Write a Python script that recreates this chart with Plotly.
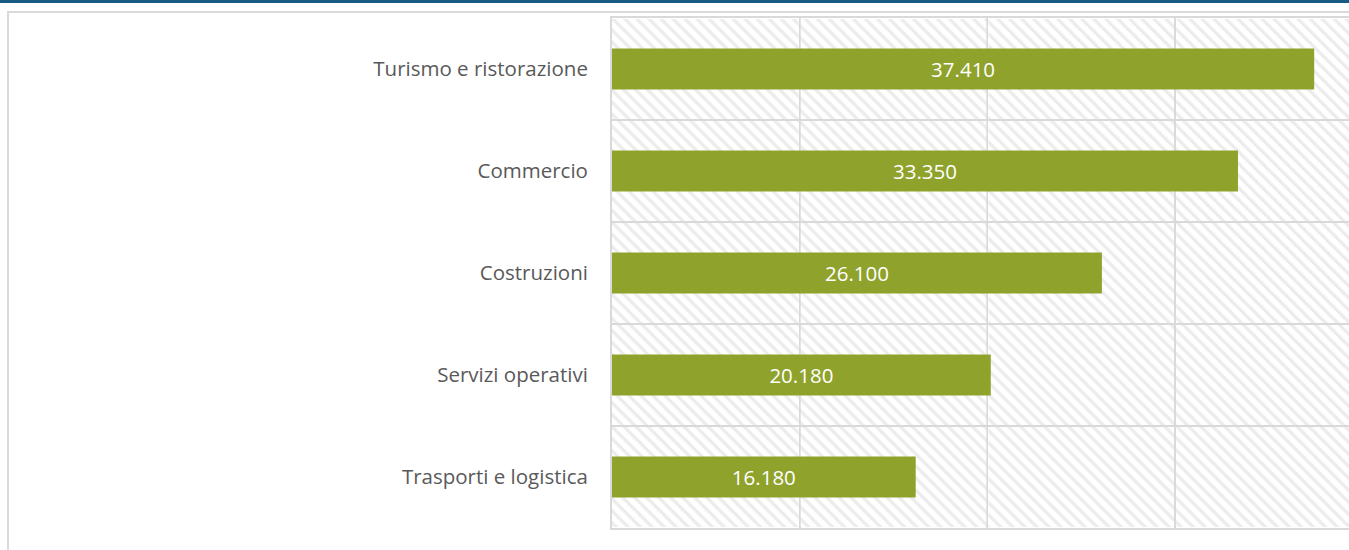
import plotly.graph_objects as go

categories = ["Turismo e ristorazione", "Commercio", "Costruzioni", "Servizi operativi", "Trasporti e logistica"]
values = [37410, 33350, 26100, 20180, 16180]
value_labels = ["37.410", "33.350", "26.100", "20.180", "16.180"]
grid_step = 10000

W, H = 1349, 550
L, R, T, B = 612, 0, 18, 22
x_max = 39265
pw = W - L - R
ph = H - T - B
px_unit = x_max / pw  # data units per pixel

fig = go.Figure()
# hatched background, split into cells so the grid shows between them
edges = list(range(0, x_max, grid_step)) + [x_max]
for a, b in zip(edges[:-1], edges[1:]):
    lo = a + (px_unit if a > 0 else 0)
    hi = b - (px_unit if b < x_max else 0)
    fig.add_trace(go.Bar(
        y=categories, x=[hi - lo] * len(categories), base=[lo] * len(categories),
        orientation="h", width=1 - 2 / (ph / len(categories)),
        marker=dict(color="white", line=dict(width=0),
                    pattern=dict(shape="\\", fgcolor="#d9d9d9", bgcolor="white", size=8.5, solidity=0.4)),
        hoverinfo="skip", showlegend=False,
    ))
fig.add_trace(go.Bar(
    y=categories, x=values, orientation="h", width=0.4,
    marker=dict(color="#8fa22c", line=dict(width=0)),
    text=value_labels, textposition="inside", insidetextanchor="middle",
    textfont=dict(color="white", size=20.5, family="Open Sans"),
    showlegend=False,
))

fig.update_layout(
    width=W, height=H, margin=dict(l=L, r=R, t=T, b=B),
    barmode="overlay", paper_bgcolor="white", plot_bgcolor="white",
    font=dict(family="Open Sans", color="#595959"),
    xaxis=dict(range=[0, x_max], showticklabels=False, dtick=grid_step, tick0=0,
               showgrid=True, gridcolor="#d9d9d9", gridwidth=2, zeroline=False,
               showline=True, mirror=True, linecolor="#d9d9d9", linewidth=2),
    yaxis=dict(categoryorder="array", categoryarray=categories, autorange="reversed",
               tickson="boundaries", showgrid=True, gridcolor="#d9d9d9", gridwidth=2,
               showline=True, linecolor="#d9d9d9", linewidth=2, ticks="",
               ticklabelstandoff=18, tickfont=dict(size=20.5, color="#595959", family="Open Sans")),
    shapes=[
        dict(type="rect", xref="paper", yref="paper",
             x0=(8 - L) / pw, x1=1.2, y0=-0.2, y1=1 + (T - 12) / ph,
             line=dict(color="#dadada", width=2), fillcolor="rgba(0,0,0,0)", layer="below"),
        dict(type="rect", xref="paper", yref="paper",
             x0=-L / pw, x1=1.2, y0=1 + (T - 3) / ph, y1=1 + (T + 2) / ph,
             line=dict(width=0), fillcolor="#175a83", layer="above"),
    ],
)
fig.write_html("out.html", config={"displayModeBar": False},
               post_script="document.body.style.margin='0';document.body.style.overflow='hidden';")
